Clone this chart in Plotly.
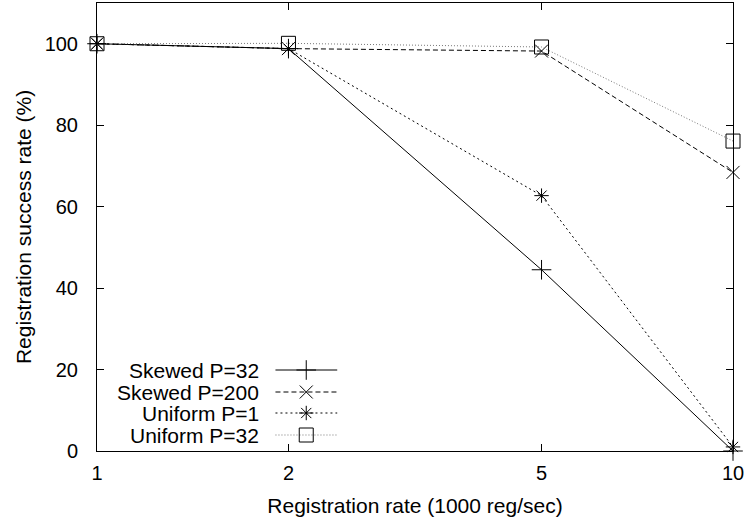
import plotly.graph_objects as go

rates = [1, 2, 5, 10]
skewed_p32 = [100, 98.8, 44.5, 0]
skewed_p200 = [100, 98.8, 98.2, 68.4]
uniform_p1 = [100, 98.8, 62.7, 1]
uniform_p32 = [100, 100.1, 99.2, 76.1]
series_names = ["Skewed P=32", "Skewed P=200", "Uniform P=1", "Uniform P=32"]
y_ticks = [0, 20, 40, 60, 80, 100]
x_ticks = [1, 2, 5, 10]

FONT = "Liberation Sans, Arial, Helvetica, sans-serif"
styles = [
    dict(dash="solid", color="black", symbol="cross-thin-open", size=14),
    dict(dash="5px,3px", color="black", symbol="x-thin-open", size=13),
    dict(dash="2px,3px", color="black", symbol="asterisk-open", size=12),
    dict(dash="1px,2px", color="#777777", symbol="square-open", size=14),
]
data = [skewed_p32, skewed_p200, uniform_p1, uniform_p32]

fig = go.Figure()
for name, ys, st in zip(series_names, data, styles):
    fig.add_trace(go.Scatter(
        x=rates, y=ys, name=name, mode="lines+markers",
        line=dict(color=st["color"], width=1, dash=st["dash"]),
        marker=dict(symbol=st["symbol"], size=st["size"], color="black",
                    line=dict(color="black", width=1)),
        cliponaxis=False, showlegend=False,
    ))

# manual gnuplot-style legend (text left of sample)
leg_rows = [0.1808, 0.1317, 0.0848, 0.0357]
for name, st, yy in zip(series_names, styles, leg_rows):
    fig.add_trace(go.Scatter(
        x=[0.2806, 0.3777], y=[yy, yy], mode="lines", xaxis="x2", yaxis="y2",
        line=dict(color=st["color"], width=1, dash=st["dash"]),
        showlegend=False, hoverinfo="skip",
    ))
    fig.add_trace(go.Scatter(
        x=[0.329], y=[yy], mode="markers", xaxis="x2", yaxis="y2",
        marker=dict(symbol=st["symbol"], size=st["size"], color="black",
                    line=dict(color="black", width=1)),
        showlegend=False, hoverinfo="skip",
    ))
    fig.add_annotation(x=0.2586, y=yy, xref="x2", yref="y2", text=name,
                       showarrow=False, xanchor="right", yanchor="middle",
                       font=dict(family=FONT, size=21, color="black"))

axis_common = dict(showline=True, linecolor="black", linewidth=1, mirror="allticks",
                   ticks="inside", ticklen=7, tickcolor="black", showgrid=False,
                   zeroline=False, automargin=False,
                   tickfont=dict(family=FONT, size=20, color="black"))

fig.update_layout(
    width=746, height=520,
    margin=dict(l=97, r=13, t=3, b=69),
    paper_bgcolor="white", plot_bgcolor="white",
    font=dict(family=FONT, size=20, color="black"),
    xaxis=dict(type="log", range=[0, 1], tickvals=x_ticks, ticktext=[str(v) for v in x_ticks],
               ticklabelstandoff=4,
               title=dict(text="Registration rate (1000 reg/sec)", standoff=15,
                          font=dict(family=FONT, size=21)), **axis_common),
    yaxis=dict(range=[0, 110], tickvals=y_ticks, ticklabelstandoff=14,
               title=dict(text="Registration success rate (%)", standoff=7,
                          font=dict(family=FONT, size=21)), **axis_common),
    xaxis2=dict(overlaying="x", range=[0, 1], visible=False),
    yaxis2=dict(overlaying="y", range=[0, 1], visible=False),
    showlegend=False,
)

fig.write_html("out.html", config={"displayModeBar": False},
               post_script="document.body.style.margin='0';document.body.style.overflow='hidden';")
